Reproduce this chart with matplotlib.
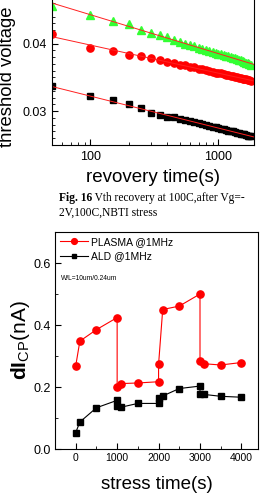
import numpy as np
import matplotlib
matplotlib.use('Agg')
import matplotlib.pyplot as plt
from matplotlib.ticker import MultipleLocator, LogLocator, NullFormatter

plt.rcParams['font.family'] = ['Liberation Sans', 'DejaVu Sans']
plt.rcParams['mathtext.fontset'] = 'custom'
plt.rcParams['mathtext.rm'] = 'Liberation Sans'
plt.rcParams['mathtext.bf'] = 'Liberation Sans:bold'

# ---- top panel data (recovery) ----
t_rec = [50, 100, 150, 200, 250, 300, 350, 400, 450, 500, 550, 600, 650, 700, 750, 800,
         850, 900, 950, 1000, 1050, 1100, 1150, 1200, 1250, 1300, 1350, 1400, 1450, 1500,
         1550, 1600, 1650, 1700, 1750, 1800]
v_green = [0.0456, 0.0442, 0.0434, 0.0429, 0.0420, 0.0415, 0.0413, 0.0409, 0.0405, 0.0402,
           0.0400, 0.0398, 0.0396, 0.0394, 0.0392, 0.0391, 0.0389, 0.0388, 0.0386, 0.0385,
           0.0384, 0.0383, 0.0382, 0.0381, 0.0380, 0.0379, 0.0378, 0.0377, 0.0376, 0.0375,
           0.0374, 0.0373, 0.0372, 0.0371, 0.0370, 0.0369]
v_red = [0.0414, 0.0394, 0.0389, 0.0383, 0.0381, 0.0378, 0.0375, 0.0373, 0.0371, 0.0369,
         0.0368, 0.0366, 0.0365, 0.0363, 0.0362, 0.0361, 0.0360, 0.0358, 0.0357, 0.0356,
         0.0356, 0.0355, 0.0354, 0.0353, 0.0352, 0.0352, 0.0351, 0.0350, 0.0349, 0.0349,
         0.0348, 0.0347, 0.0347, 0.0346, 0.0346, 0.0345]
v_black = [0.0337, 0.0322, 0.0316, 0.0310, 0.0304, 0.0297, 0.0294, 0.0292, 0.0291, 0.0289,
           0.0287, 0.0286, 0.0284, 0.0283, 0.0281, 0.0280, 0.0278, 0.0277, 0.0276, 0.0275,
           0.0274, 0.0273, 0.0272, 0.0271, 0.0271, 0.0270, 0.0269, 0.0268, 0.0268, 0.0267,
           0.0266, 0.0266, 0.0265, 0.0264, 0.0264, 0.0263]

# ---- bottom panel data (charge pumping) ----
t_str = [0, 100, 500, 1000, 1000, 1100, 1500, 2000, 2000, 2100, 2500, 3000, 3000, 3100, 3500, 4000]
icp_plasma = [0.268, 0.348, 0.385, 0.424, 0.201, 0.211, 0.213, 0.217, 0.273, 0.450, 0.461,
              0.500, 0.283, 0.275, 0.271, 0.279]
icp_ald = [0.053, 0.087, 0.133, 0.157, 0.140, 0.135, 0.147, 0.147, 0.165, 0.171, 0.195,
           0.203, 0.179, 0.176, 0.170, 0.167]

fig = plt.figure(figsize=(2.6, 4.93), dpi=100)

# top panel, its top edge runs off the picture
ax1 = fig.add_axes([52/260, (493-145)/493, (254-52)/260, 165/493])
ax1.set_xscale('log')
x = np.array(t_rec, dtype=float)
for v, col, mk, ms in [(v_green, '#33ff33', '^', 5.5), (v_red, '#ff0000', 'o', 5.2),
                       (v_black, 'black', 's', 4.3)]:
    ax1.plot(x, v, ls='none', marker=mk, color=col, ms=ms, mec=col)
    p = np.polyfit(np.log10(x), v, 1)
    xf = np.array([45.0, 2100.0])
    ax1.plot(xf, np.polyval(p, np.log10(xf)), color='#ff2020', lw=0.7)
ax1.set_xlim(50, 1900)
ax1.set_ylim(0.025, 0.0494)
ax1.set_yticks([0.03, 0.04])
ax1.yaxis.set_minor_locator(MultipleLocator(0.001))
ax1.xaxis.set_minor_locator(LogLocator(base=10, subs=np.arange(2, 10)))
ax1.xaxis.set_minor_formatter(NullFormatter())
ax1.set_xticks([100, 1000])
ax1.set_xticklabels(['100', '1000'])
ax1.tick_params(which='both', direction='in', top=False, right=False, labelsize=9, pad=4)
ax1.tick_params(which='major', length=4)
ax1.tick_params(which='minor', length=2.5)
ax1.spines['top'].set_visible(False)
ax1.set_xlabel('revovery time(s)', fontsize=13.5, labelpad=5)
fig.text(8/260, 1 - 147/493, 'threshold voltage', rotation=90, ha='center',
         va='bottom', fontsize=13.3)

# caption
cap = fig.text(59/260, 1 - 201/493, 'Fig. 16', family=['Liberation Serif'],
               fontweight='bold', fontsize=8.3)
fig.text(59/260, 1 - 216/493, '2V,100C,NBTI stress', family=['Liberation Serif'], fontsize=8.3)
ax1.annotate(' Vth recovery at 100C,after Vg=-', xy=(1, 0), xycoords=cap, va='bottom',
             ha='left', family=['Liberation Serif'], fontsize=8.3, annotation_clip=False)

# bottom panel
ax2 = fig.add_axes([55/260, 44/493, 203/260, 217/493])
ax2.plot(t_str, icp_plasma, color='#ff0000', lw=0.8, marker='o', ms=5.2, label='PLASMA @1MHz')
ax2.plot(t_str, icp_ald, color='black', lw=0.8, marker='s', ms=4.3, label='ALD @1MHz')
ax2.set_xlim(-500, 4400)
ax2.set_ylim(0, 0.7)
ax2.set_xticks([0, 1000, 2000, 3000, 4000])
ax2.xaxis.set_minor_locator(MultipleLocator(500))
ax2.set_yticks([0.0, 0.2, 0.4, 0.6])
ax2.yaxis.set_minor_locator(MultipleLocator(0.1))
ax2.tick_params(which='both', direction='in', top=False, right=False, pad=3)
ax2.tick_params(axis='x', labelsize=7.5)
ax2.tick_params(axis='y', labelsize=9)
ax2.tick_params(which='major', length=4)
ax2.tick_params(which='minor', length=2.5)
ax2.set_xlabel('stress time(s)', fontsize=13.5, labelpad=9)
ax2.set_ylabel(r'$\mathbf{dI}_{\mathrm{CP}}$(nA)', fontsize=15, labelpad=1)
leg = ax2.legend(loc='upper left', frameon=False, fontsize=7.5, handlelength=2.7,
                 markerscale=0.8, borderaxespad=0.15, handletextpad=0.3, labelspacing=0.45,
                 borderpad=0.3)
ax2.text(0.03, 0.788, 'W/L=10um/0.24um', transform=ax2.transAxes, fontsize=4.8,
         va='center')

fig.savefig('out.png', dpi=100)
